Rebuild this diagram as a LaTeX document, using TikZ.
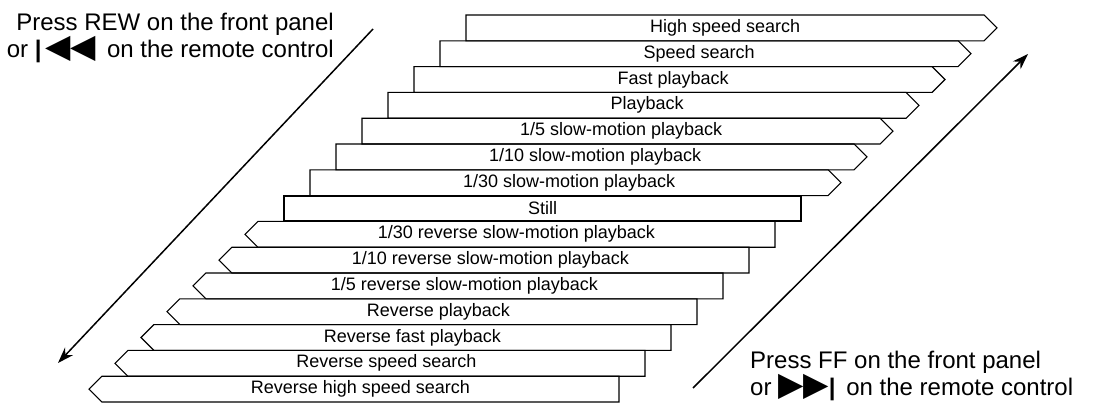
\documentclass[tikz,border=0pt]{standalone}
\usepackage{fontspec}
\setmainfont{Liberation Sans}
\newfontfamily\symfont{DejaVu Sans}
\usepackage{tikz}
\usetikzlibrary{arrows.meta,positioning,shapes.symbols}

\newcommand{\bigtri}[1]{{\symfont\fontsize{33}{27}\selectfont #1}}

\begin{document}
\begin{tikzpicture}[x=1pt, y=1pt, >={Stealth[length=16pt,width=11pt]},
  row/.style={draw, line width=1.1pt, minimum height=25.8pt, inner sep=0pt, outer sep=0pt,
    font=\fontsize{18}{20}\selectfont},
  fwd/.style={row, signal, signal to=east, signal pointer angle=90, minimum width=531pt},
  rev/.style={row, signal, signal to=west, signal pointer angle=90, minimum width=530pt},
  stillbox/.style={row, rectangle, line width=2pt, minimum width=517pt},
  bigtext/.style={inner sep=0pt, font=\fontsize{24}{26}\selectfont}]
  \useasboundingbox (0,0) rectangle (1097,-405);

  % forward speeds, stepping down to the left
  \node[fwd, anchor=north west] (hss) at (466,-15) {High speed search};
  \node[fwd, below=0pt of hss.south west, anchor=north west, xshift=-26pt] (ss) {Speed search};
  \node[fwd, below=0pt of ss.south west, anchor=north west, xshift=-26pt] (fp) {Fast playback};
  \node[fwd, below=0pt of fp.south west, anchor=north west, xshift=-26pt] (pb) {Playback};
  \node[fwd, below=0pt of pb.south west, anchor=north west, xshift=-26pt] (s5) {1/5 slow-motion playback};
  \node[fwd, below=0pt of s5.south west, anchor=north west, xshift=-26pt] (s10) {1/10 slow-motion playback};
  \node[fwd, below=0pt of s10.south west, anchor=north west, xshift=-26pt] (s30) {1/30 slow-motion playback};
  \node[stillbox, below=0pt of s30.south west, anchor=north west, xshift=-26pt] (still) {Still};

  % reverse speeds
  \node[rev, below=0pt of still.south east, anchor=north east, xshift=-26pt] (r30) {1/30 reverse slow-motion playback};
  \node[rev, below=0pt of r30.south east, anchor=north east, xshift=-26pt] (r10) {1/10 reverse slow-motion playback};
  \node[rev, below=0pt of r10.south east, anchor=north east, xshift=-26pt] (r5) {1/5 reverse slow-motion playback};
  \node[rev, below=0pt of r5.south east, anchor=north east, xshift=-26pt] (rpb) {Reverse playback};
  \node[rev, below=0pt of rpb.south east, anchor=north east, xshift=-26pt] (rfp) {Reverse fast playback};
  \node[rev, below=0pt of rfp.south east, anchor=north east, xshift=-26pt] (rss) {Reverse speed search};
  \node[rev, below=0pt of rss.south east, anchor=north east, xshift=-26pt] (rhss) {Reverse high speed search};

  % key hints
  \node[bigtext, align=right, anchor=north east] (rewtext) at (334,-13)
    {Press REW on the front panel\\or {\bfseries|}\,\bigtri{◀◀}\, on the remote control};
  \node[bigtext, align=left, anchor=north west] (fftext) at (750,-351)
    {Press FF on the front panel\\or \bigtri{▶▶}{\bfseries|}\, on the remote control};

  \coordinate (rewtop) at (373,-29);
  \coordinate (rewtip) at (58,-363);
  \coordinate (ffbot) at (693,-388);
  \coordinate (fftip) at (1028,-54);
  \draw[->, line width=1.5pt] (rewtop) -- (rewtip);
  \draw[->, line width=1.5pt] (ffbot) -- (fftip);
\end{tikzpicture}
\end{document}
